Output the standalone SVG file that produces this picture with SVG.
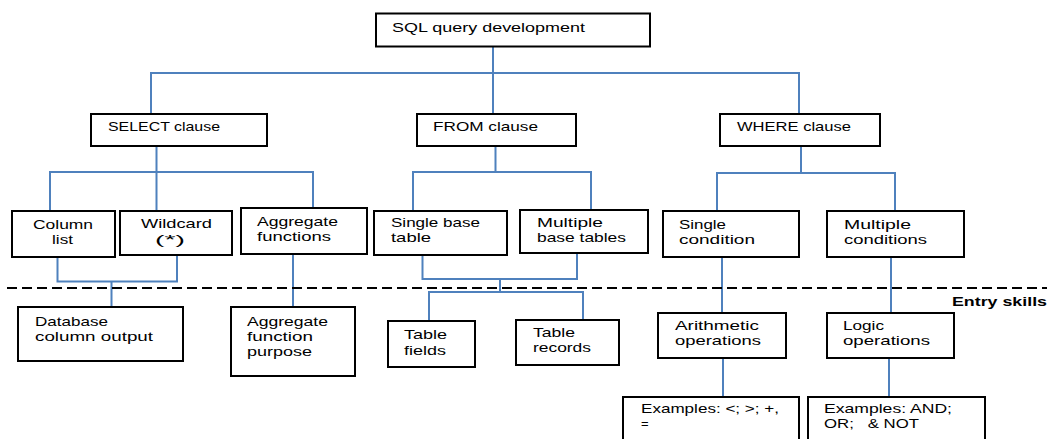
<svg xmlns="http://www.w3.org/2000/svg" width="1047" height="439" viewBox="0 0 1047 439">
<style>
.box{fill:#fff;stroke:#000;stroke-width:2}
.t{font-family:"Liberation Sans",Arial,sans-serif;font-size:13px;fill:#000}
.b{font-weight:bold}
.c{stroke:#4f81bd;stroke-width:2;fill:none}
.dash{stroke:#000;stroke-width:2;stroke-dasharray:10 5;fill:none}
</style>
<rect width="1047" height="439" fill="#fff"/>
<g id="connectors">
<path class="c" d="M493 46V114M151 114V73H799V114"/>
<path class="c" d="M156.5 146V211M50 211V172H313V208"/>
<path class="c" d="M495.5 146V172M413 211V172H591V210"/>
<path class="c" d="M801 146V173M717 211V173H895V211"/>
<path class="c" d="M57.5 257V281.5H177V255M111.5 281.5V307"/>
<path class="c" d="M293 254V307"/>
<path class="c" d="M422.5 255V279H577V253M500 279V292M429 321V292H583V320"/>
<path class="c" d="M722 257V313M891 257V313"/>
<path class="c" d="M723 358V397M889 358V397"/>
</g>
<path id="entry-line" class="dash" d="M7 288H1047"/>
<text class="t b" x="952" y="306" textLength="95" lengthAdjust="spacingAndGlyphs">Entry skills</text>
<g id="root"><rect class="box" x="376" y="13.5" width="274" height="33"/><text class="t" x="392" y="32" textLength="193" lengthAdjust="spacingAndGlyphs">SQL query development</text></g>
<g id="select"><rect class="box" x="91" y="114" width="176" height="32"/><text class="t" x="108" y="131" textLength="112" lengthAdjust="spacingAndGlyphs">SELECT clause</text></g>
<g id="from"><rect class="box" x="417" y="114" width="159" height="32"/><text class="t" x="433" y="131" textLength="105" lengthAdjust="spacingAndGlyphs">FROM clause</text></g>
<g id="where"><rect class="box" x="720" y="114" width="160" height="32"/><text class="t" x="737" y="131" textLength="114" lengthAdjust="spacingAndGlyphs">WHERE clause</text></g>
<g id="column-list"><rect class="box" x="12" y="211" width="103" height="46"/><text class="t" x="33" y="229" textLength="60" lengthAdjust="spacingAndGlyphs">Column</text><text class="t" x="52" y="244" textLength="21" lengthAdjust="spacingAndGlyphs">list</text></g>
<g id="wildcard"><rect class="box" x="120" y="211" width="112" height="44"/><text class="t" x="141" y="228" textLength="71" lengthAdjust="spacingAndGlyphs">Wildcard</text><text class="t" x="155" y="244" textLength="30" lengthAdjust="spacingAndGlyphs">(*)</text></g>
<g id="aggregate-functions"><rect class="box" x="241" y="208" width="126" height="46"/><text class="t" x="257" y="226" textLength="81" lengthAdjust="spacingAndGlyphs">Aggregate</text><text class="t" x="257" y="241" textLength="74" lengthAdjust="spacingAndGlyphs">functions</text></g>
<g id="single-base-table"><rect class="box" x="374" y="211" width="133" height="44"/><text class="t" x="391" y="227" textLength="89" lengthAdjust="spacingAndGlyphs">Single base</text><text class="t" x="391" y="242" textLength="40" lengthAdjust="spacingAndGlyphs">table</text></g>
<g id="multiple-base-tables"><rect class="box" x="520" y="210" width="128" height="43"/><text class="t" x="537" y="227" textLength="66" lengthAdjust="spacingAndGlyphs">Multiple</text><text class="t" x="537" y="242" textLength="89" lengthAdjust="spacingAndGlyphs">base tables</text></g>
<g id="single-condition"><rect class="box" x="663" y="211" width="136" height="46"/><text class="t" x="679" y="229" textLength="47" lengthAdjust="spacingAndGlyphs">Single</text><text class="t" x="679" y="244" textLength="76" lengthAdjust="spacingAndGlyphs">condition</text></g>
<g id="multiple-conditions"><rect class="box" x="827" y="211" width="137" height="46"/><text class="t" x="844" y="229" textLength="67" lengthAdjust="spacingAndGlyphs">Multiple</text><text class="t" x="844" y="244" textLength="83" lengthAdjust="spacingAndGlyphs">conditions</text></g>
<g id="database-column-output"><rect class="box" x="18" y="307" width="165" height="54"/><text class="t" x="35" y="326" textLength="73" lengthAdjust="spacingAndGlyphs">Database</text><text class="t" x="35" y="341" textLength="118" lengthAdjust="spacingAndGlyphs">column output</text></g>
<g id="aggregate-function-purpose"><rect class="box" x="231" y="307" width="124" height="69"/><text class="t" x="247" y="326" textLength="81" lengthAdjust="spacingAndGlyphs">Aggregate</text><text class="t" x="247" y="341" textLength="66" lengthAdjust="spacingAndGlyphs">function</text><text class="t" x="247" y="356" textLength="65" lengthAdjust="spacingAndGlyphs">purpose</text></g>
<g id="table-fields"><rect class="box" x="388" y="321" width="87" height="46"/><text class="t" x="404" y="339" textLength="43" lengthAdjust="spacingAndGlyphs">Table</text><text class="t" x="404" y="355" textLength="42" lengthAdjust="spacingAndGlyphs">fields</text></g>
<g id="table-records"><rect class="box" x="516" y="320" width="103" height="45"/><text class="t" x="533" y="337" textLength="42" lengthAdjust="spacingAndGlyphs">Table</text><text class="t" x="533" y="352" textLength="58" lengthAdjust="spacingAndGlyphs">records</text></g>
<g id="arithmetic-operations"><rect class="box" x="658" y="313" width="128" height="45"/><text class="t" x="675" y="330" textLength="84" lengthAdjust="spacingAndGlyphs">Arithmetic</text><text class="t" x="675" y="345" textLength="86" lengthAdjust="spacingAndGlyphs">operations</text></g>
<g id="logic-operations"><rect class="box" x="827" y="313" width="127" height="45"/><text class="t" x="843" y="330" textLength="41" lengthAdjust="spacingAndGlyphs">Logic</text><text class="t" x="843" y="345" textLength="87" lengthAdjust="spacingAndGlyphs">operations</text></g>
<g id="examples-arithmetic"><rect class="box" x="623" y="397" width="176" height="50"/><text class="t" x="641" y="413" textLength="138" lengthAdjust="spacingAndGlyphs">Examples: &lt;; &gt;; +,</text><text class="t" x="641" y="428">=</text></g>
<g id="examples-logic"><rect class="box" x="808" y="397" width="177" height="50"/><text class="t" x="824" y="413" textLength="128" lengthAdjust="spacingAndGlyphs">Examples: AND;</text><text class="t" x="824" y="428" textLength="95" lengthAdjust="spacingAndGlyphs" xml:space="preserve">OR;   &amp; NOT</text></g>
</svg>
